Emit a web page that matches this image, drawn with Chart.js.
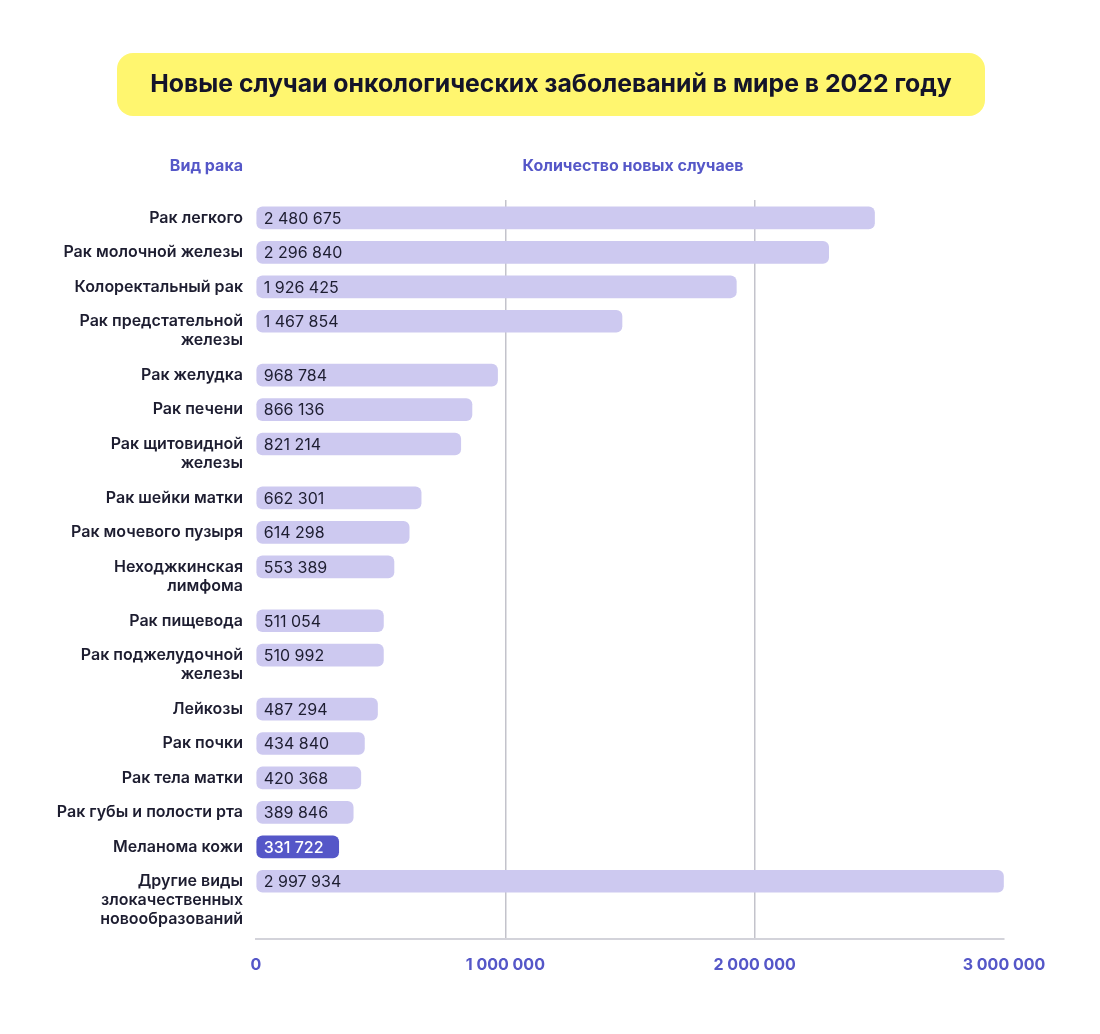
<!DOCTYPE html>
<html lang="ru">
<head>
<meta charset="utf-8">
<title>Новые случаи онкологических заболеваний в мире в 2022 году</title>
<script src="https://cdn.jsdelivr.net/npm/chart.js@4.4.1/dist/chart.umd.min.js"></script>
<style>
  html, body { margin: 0; padding: 0; background: #ffffff; }
  #wrap { width: 1100px; height: 1034px; position: relative; }
</style>
</head>
<body>
<div id="wrap"><canvas id="c" width="1100" height="1034"></canvas></div>
<script>
// ---- data ----
const titleText = "Новые случаи онкологических заболеваний в мире в 2022 году";
const categoryHeader = "Вид рака";
const valueHeader = "Количество новых случаев";
const categories = [
  "Рак легкого",
  "Рак молочной железы",
  "Колоректальный рак",
  "Рак предстательной\nжелезы",
  "Рак желудка",
  "Рак печени",
  "Рак щитовидной\nжелезы",
  "Рак шейки матки",
  "Рак мочевого пузыря",
  "Неходжкинская\nлимфома",
  "Рак пищевода",
  "Рак поджелудочной\nжелезы",
  "Лейкозы",
  "Рак почки",
  "Рак тела матки",
  "Рак губы и полости рта",
  "Меланома кожи",
  "Другие виды\nзлокачественных\nновообразований"
];
const newCases = [
  2480675, 2296840, 1926425, 1467854, 968784, 866136, 821214, 662301,
  614298, 553389, 511054, 510992, 487294, 434840, 420368, 389846,
  331722, 2997934
];
const highlighted = "Меланома кожи";
const xTicks = [0, 1000000, 2000000, 3000000];

// ---- helpers ----
function fmt(n) {
  return String(n).replace(/\B(?=(\d{3})+(?!\d))/g, " ");
}
const LINE_GAP = 0.565; // extra row units per additional label line
const rowPos = [];
let extra = 0;
categories.forEach((c, i) => {
  rowPos.push(i + extra * LINE_GAP);
  extra += c.split("\n").length - 1;
});
const points = newCases.map((v, i) => ({ x: v, y: rowPos[i] }));

const FONT = "Inter, 'Noto Sans', sans-serif";
const BLUE = "#5557c8";
const BAR = "#cdc9f0";
const DARK = "#1d1d30";
const LABEL_GAP = 13;

const decor = {
  id: "decor",
  beforeDraw(chart) {
    const ctx = chart.ctx;
    ctx.save();
    ctx.fillStyle = "#fff66f";
    ctx.beginPath();
    ctx.roundRect(117, 53, 868, 63, 16);
    ctx.fill();
    ctx.font = "700 24.8px " + FONT;
    ctx.fillStyle = "#14142a";
    ctx.textAlign = "center";
    ctx.textBaseline = "middle";
    ctx.fillText(titleText, 551, 85);
    ctx.restore();
  },
  afterDraw(chart) {
    const ctx = chart.ctx;
    const area = chart.chartArea;
    const y = chart.scales.y;
    const lx = area.left - LABEL_GAP;
    ctx.save();
    // headers
    ctx.font = "700 16px " + FONT;
    ctx.fillStyle = BLUE;
    ctx.textBaseline = "middle";
    ctx.textAlign = "right";
    ctx.fillText(categoryHeader, lx, 166);
    ctx.textAlign = "center";
    ctx.fillText(valueHeader, 633, 166);
    // category labels
    ctx.font = "600 16px " + FONT;
    ctx.fillStyle = DARK;
    ctx.textAlign = "right";
    categories.forEach((c, i) => {
      const py = y.getPixelForValue(rowPos[i]);
      c.split("\n").forEach((line, k) => {
        ctx.fillText(line, lx, py + k * 19);
      });
    });
    // value labels inside bars
    const meta = chart.getDatasetMeta(0);
    ctx.textAlign = "left";
    meta.data.forEach((bar, i) => {
      const isHi = categories[i] === highlighted;
      ctx.font = (isHi ? "500 " : "400 ") + "16px " + FONT;
      ctx.fillStyle = isHi ? "#ffffff" : DARK;
      ctx.fillText(fmt(newCases[i]), Math.min(bar.x, bar.base) + 7, bar.y + 1);
    });
    ctx.restore();
  }
};

new Chart(document.getElementById("c"), {
  type: "bar",
  data: {
    datasets: [{
      data: points,
      backgroundColor: categories.map(c => c === highlighted ? BLUE : BAR),
      borderRadius: 6,
      borderSkipped: false,
      barThickness: 22
    }]
  },
  options: {
    indexAxis: "y",
    responsive: false,
    animation: false,
    events: [],
    layout: { padding: { left: 256, right: 96, top: 200, bottom: 42 } },
    plugins: {
      legend: { display: false },
      tooltip: { enabled: false },
      title: { display: false }
    },
    scales: {
      y: {
        type: "linear",
        display: false,
        reverse: true,
        offset: false,
        grid: { offset: false },
        min: -0.52,
        max: rowPos[rowPos.length - 1] + 1.67
      },
      x: {
        type: "linear",
        position: "bottom",
        min: xTicks[0],
        max: xTicks[xTicks.length - 1],
        afterBuildTicks(scale) { scale.ticks = xTicks.map(v => ({ value: v })); },
        border: { display: true, color: "#d3d3da", width: 2 },
        grid: {
          drawTicks: false,
          lineWidth: 1.5,
          color: (c) => (c.tick && (c.tick.value === xTicks[0] || c.tick.value === xTicks[xTicks.length - 1])) ? "rgba(0,0,0,0)" : "#c3c3cb"
        },
        ticks: {
          padding: 17,
          color: BLUE,
          font: { family: FONT, size: 16, weight: "700" },
          maxRotation: 0,
          autoSkip: false,
          callback: (v) => fmt(v)
        }
      }
    }
  },
  plugins: [decor]
});
</script>
</body>
</html>
